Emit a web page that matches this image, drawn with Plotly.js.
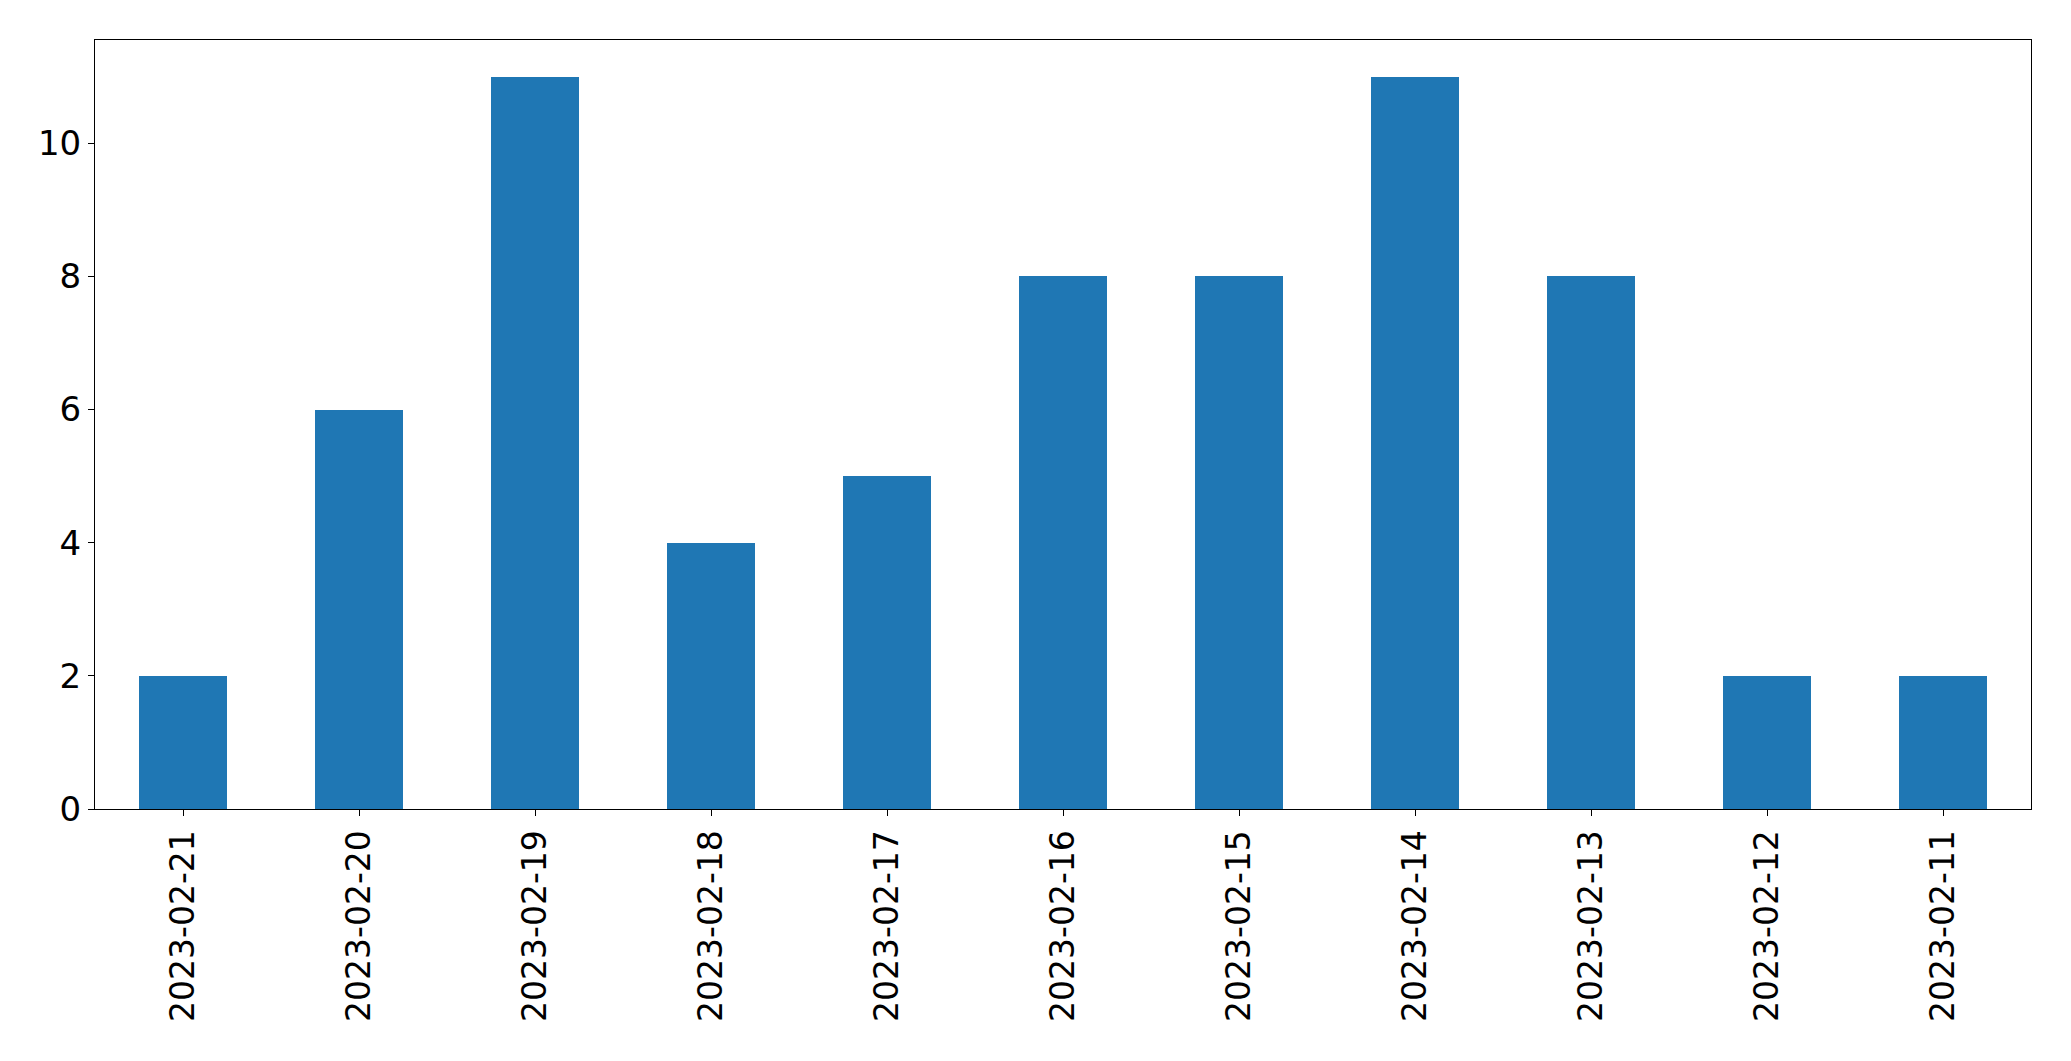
<!DOCTYPE html>
<html>
<head>
<meta charset="utf-8">
<script src="https://cdn.plot.ly/plotly-3.0.1.min.js"></script>
<style>html,body{margin:0;padding:0;background:#fff;}#chart{width:2071px;height:1061px;}</style>
</head>
<body>
<div id="chart"></div>
<script>
const categories = ["2023-02-21","2023-02-20","2023-02-19","2023-02-18","2023-02-17","2023-02-16","2023-02-15","2023-02-14","2023-02-13","2023-02-12","2023-02-11"];
const counts = [2, 6, 11, 4, 5, 8, 8, 11, 8, 2, 2];
const yTicks = [0, 2, 4, 6, 8, 10];

const trace = {
  type: 'bar',
  x: categories,
  y: counts,
  width: 0.5,
  marker: {color: '#1f77b4', line: {width: 0}},
  hoverinfo: 'x+y'
};

const axisCommon = {
  showline: true, linecolor: '#000', linewidth: 1, mirror: true,
  ticks: 'outside', ticklen: 6, tickwidth: 1, tickcolor: '#000',
  showgrid: false, zeroline: false,
  tickfont: {family: 'DejaVu Sans', size: 33, color: '#000'}
};

const layout = {
  width: 2071, height: 1061,
  margin: {l: 95, r: 40, t: 40, b: 252, pad: 0},
  paper_bgcolor: '#fff', plot_bgcolor: '#fff',
  showlegend: false,
  bargap: 0,
  xaxis: Object.assign({}, axisCommon, {
    type: 'category',
    range: [-0.5, categories.length - 0.5],
    tickangle: -90,
    ticklabelstandoff: 1
  }),
  yaxis: Object.assign({}, axisCommon, {
    range: [0, 11.55],
    tickmode: 'array',
    tickvals: yTicks,
    ticktext: yTicks.map(String),
    ticklabelstandoff: 0,
    tickfont: {family: 'DejaVu Sans', size: 34, color: '#000'}
  })
};

Plotly.newPlot('chart', [trace], layout, {displayModeBar: false, staticPlot: true});
</script>
</body>
</html>
